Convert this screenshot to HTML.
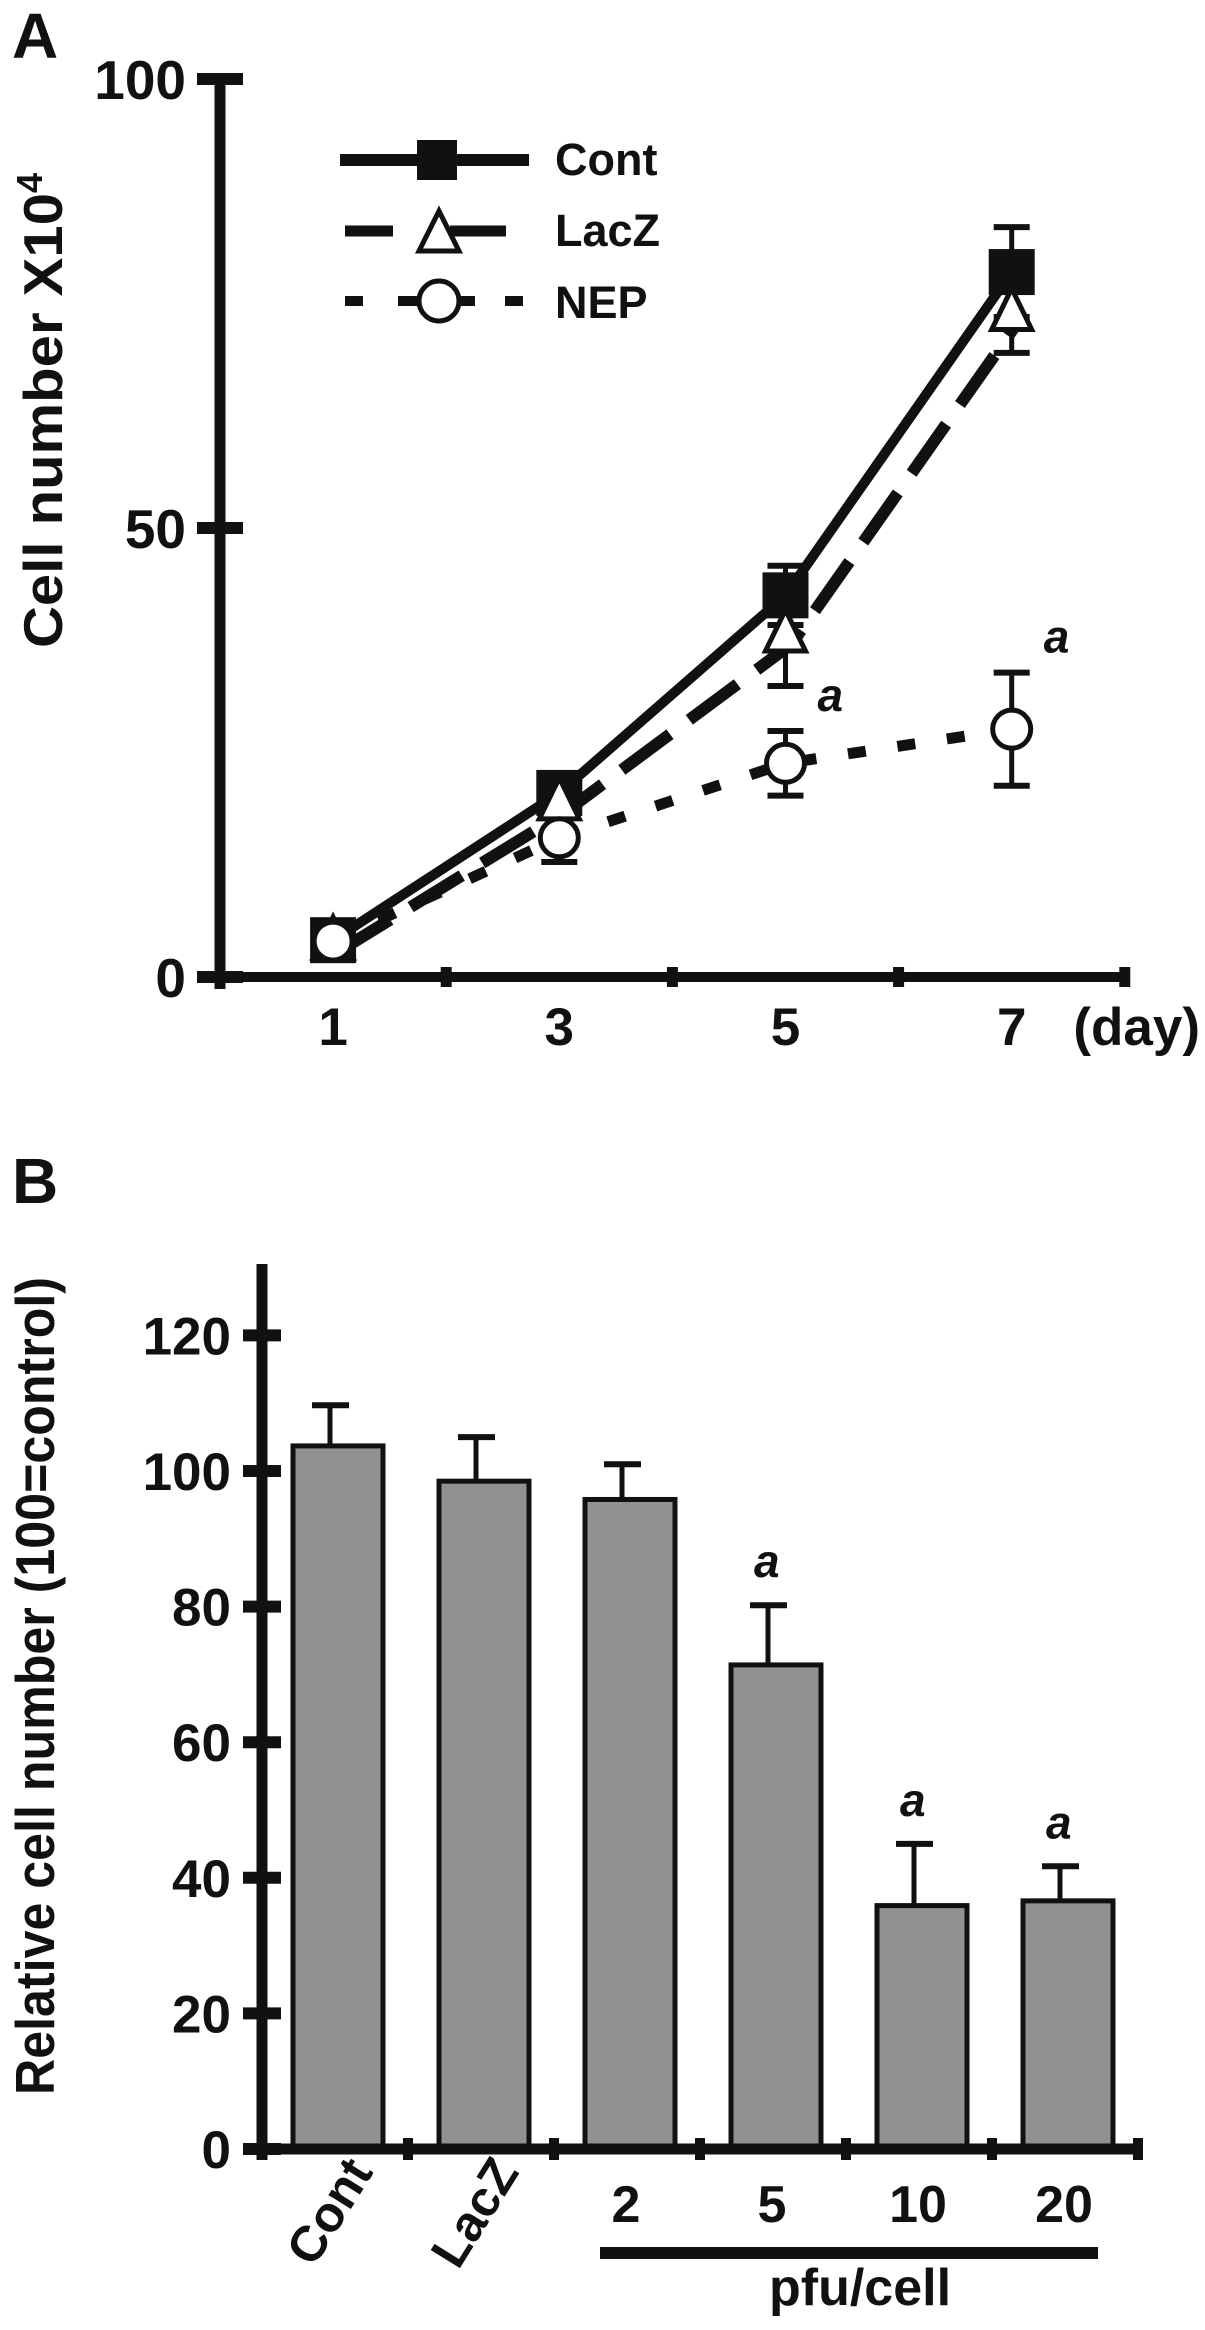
<!DOCTYPE html>
<html><head><meta charset="utf-8"><style>
html,body{margin:0;padding:0;background:#fff}
svg{display:block}
text{font-family:"Liberation Sans",Arial,sans-serif;font-weight:bold;fill:#111}
</style></head><body>
<svg id="chart" width="1205" height="2330" viewBox="0 0 1205 2330" xmlns="http://www.w3.org/2000/svg">
<g id="panelA"></g>
<g id="panelB"></g>
</svg>
<script>
// Panel A data
const days = [1, 3, 5, 7];
const contMean = [4.1, 20.5, 42.5, 78.5];
const contErr = [0, 0, 3.3, 5];
const lacMean = [4, 19.5, 38.2, 74];
const lacErr = [0, 0, 5.8, 4.5];
const nepMean = [4, 15.5, 23.8, 27.6];
const nepErr = [0, 2.7, 3.6, 6.3];
const aTicksY = [0, 50, 100];
const aTickLabelsY = ["0", "50", "100"];
const aTicksX = [0, 2, 4, 6, 8];
const nepSig = ["", "", "a", "a"];
// Panel B data
const bCats = ["Cont", "LacZ", "2", "5", "10", "20"];
const bVals = [103.7, 98.5, 95.8, 71.4, 35.9, 36.6];
const bErr = [6, 6.5, 5.2, 8.8, 9.1, 5.1];
const bSig = ["", "", "", "a", "a", "a"];
const bTicksY = [0, 20, 40, 60, 80, 100, 120];

const NS = "http://www.w3.org/2000/svg";
function mk(parent, tag, attrs, txt){
  const e = document.createElementNS(NS, tag);
  for (const k in attrs) e.setAttribute(k, attrs[k]);
  if (txt !== undefined) e.textContent = txt;
  parent.appendChild(e);
  return e;
}
// ---------- Panel A ----------
const A = document.getElementById('panelA');
const ax = d => 220 + d * 113.1;
const ay = v => 977 - v * 8.98;

let t = mk(A, 'text', {x: 12, y: 58, 'font-size': 64});
t.textContent = 'A';



let yl = mk(A, 'text', {transform: 'translate(62,648) rotate(-90)', 'font-size': 55});


mk(yl, 'tspan', {textLength: 455, lengthAdjust: 'spacingAndGlyphs'}, 'Cell number  X10');
mk(yl, 'tspan', {dy: -20, 'font-size': 36}, '4');

// axes
let yAxis = mk(A, 'line', {x1: ax(0), y1: ay(100) - 3, x2: ax(0), y2: ay(0) + 12, stroke: '#111', 'stroke-width': 11});


let xAxis = mk(A, 'line', {x1: 197, y1: ay(0), x2: ax(8) + 4, y2: ay(0), stroke: '#111', 'stroke-width': 10});


aTicksY.forEach((v, i) => {
  const tk = mk(A, 'line', {x1: 197, x2: 243, y1: ay(v), y2: ay(v), stroke: '#111', 'stroke-width': 12});
  
  
  const lb = mk(A, 'text', {x: 186, y: ay(v) + 20, 'text-anchor': 'end', 'font-size': 55}, aTickLabelsY[i]);
  
  
});
aTicksX.forEach(d => {
  const tk = mk(A, 'line', {x1: ax(d), x2: ax(d), y1: ay(0) - 10, y2: ay(0) + 10, stroke: '#111', 'stroke-width': 11});
  
  
});
days.forEach(d => {
  const lb = mk(A, 'text', {x: ax(d), y: 1045, 'text-anchor': 'middle', 'font-size': 53}, String(d));
  
  
});
let dl = mk(A, 'text', {x: 1200, y: 1045, 'text-anchor': 'end', 'font-size': 53}, '(day)');



function pts(m){ return days.map((d, i) => ax(d) + ',' + ay(m[i])).join(' '); }
// series lines
let lnN = mk(A, 'polyline', {points: pts(nepMean), fill: 'none', stroke: '#111', 'stroke-width': 11, 'stroke-dasharray': '18 32'});


let lnL = mk(A, 'polyline', {points: pts(lacMean).split(' ').map(p => { const [x, y] = p.split(','); return (+x + 6) + ',' + (+y + 10); }).join(' '), fill: 'none', stroke: '#111', 'stroke-width': 12, 'stroke-dasharray': '60 24'});


let lnC = mk(A, 'polyline', {points: pts(contMean), fill: 'none', stroke: '#111', 'stroke-width': 10});



function errBar(x, m, e, name){
  if (!e) return;
  const g = mk(A, 'g', {stroke: '#111', 'stroke-width': 5});
  
  
  mk(g, 'line', {x1: x, x2: x, y1: ay(m + e), y2: ay(m - e)});
  mk(g, 'line', {x1: x - 18, x2: x + 18, y1: ay(m + e), y2: ay(m + e), 'stroke-width': 6});
  mk(g, 'line', {x1: x - 18, x2: x + 18, y1: ay(m - e), y2: ay(m - e), 'stroke-width': 6});
}
days.forEach((d, i) => {
  errBar(ax(d), contMean[i], contErr[i], 'cont-error-bar');
  errBar(ax(d), lacMean[i], lacErr[i], 'lacz-error-bar');
  errBar(ax(d), nepMean[i], nepErr[i], 'nep-error-bar');
});
days.forEach((d, i) => {
  const s = mk(A, 'rect', {x: ax(d) - 23, y: ay(contMean[i]) - 23, width: 46, height: 46, fill: '#111'});
  
  
});
days.forEach((d, i) => {
  const x = ax(d), y = ay(lacMean[i]);
  const tr = mk(A, 'polygon', {points: `${x},${y - 24} ${x - 20},${y + 17} ${x + 20},${y + 17}`, fill: '#fff', stroke: '#111', 'stroke-width': 5});
  
  
});
days.forEach((d, i) => {
  const c = mk(A, 'circle', {cx: ax(d), cy: ay(nepMean[i]), r: 19, fill: '#fff', stroke: '#111', 'stroke-width': 5});
  
  
  if (nepSig[i]) {
    const s = mk(A, 'text', {x: ax(d) + 32, y: ay(nepMean[i] + nepErr[i]) - 20, 'font-size': 46, 'font-style': 'italic'}, nepSig[i]);
    
    
  }
});
// legend
const leg = mk(A, 'g', {});


let l1 = mk(leg, 'g', {});


mk(l1, 'line', {x1: 340, x2: 529, y1: 160, y2: 160, stroke: '#111', 'stroke-width': 12});
mk(l1, 'rect', {x: 417, y: 140, width: 40, height: 40, fill: '#111'});
mk(l1, 'text', {x: 555, y: 175, 'font-size': 45}, 'Cont');
let l2 = mk(leg, 'g', {});


mk(l2, 'line', {x1: 345, x2: 393, y1: 231, y2: 231, stroke: '#111', 'stroke-width': 11});
mk(l2, 'line', {x1: 450, x2: 506, y1: 231, y2: 231, stroke: '#111', 'stroke-width': 11});
mk(l2, 'polygon', {points: '439,211 419,251 459,251', fill: '#fff', stroke: '#111', 'stroke-width': 5});
mk(l2, 'text', {x: 555, y: 246, 'font-size': 45}, 'LacZ');
let l3 = mk(leg, 'g', {});


[[345, 363], [398, 420], [458, 475], [505, 523]].forEach(s => mk(l3, 'line', {x1: s[0], x2: s[1], y1: 301, y2: 301, stroke: '#111', 'stroke-width': 10}));
mk(l3, 'circle', {cx: 439, cy: 301, r: 20, fill: '#fff', stroke: '#111', 'stroke-width': 5});
mk(l3, 'text', {x: 555, y: 318, 'font-size': 45}, 'NEP');

// ---------- Panel B ----------
const B = document.getElementById('panelB');
const by = v => 2149 - v * 6.78;
const bx = i => 338 + i * 146;
let tb = mk(B, 'text', {x: 12, y: 1203, 'font-size': 64}, 'B');


let ylb = mk(B, 'text', {transform: 'translate(54,2095) rotate(-90)', 'font-size': 55, textLength: 818, lengthAdjust: 'spacingAndGlyphs'}, 'Relative cell number (100=control)');



bCats.forEach((c, i) => {
  const h = by(0) - by(bVals[i]);
  const r = mk(B, 'rect', {x: bx(i) - 45, y: by(bVals[i]), width: 90, height: h, fill: '#919191', stroke: '#111', 'stroke-width': 5});
  
  
  const g = mk(B, 'g', {stroke: '#111', 'stroke-width': 5});
  
  
  mk(g, 'line', {x1: bx(i) - 8, x2: bx(i) - 8, y1: by(bVals[i]), y2: by(bVals[i] + bErr[i])});
  mk(g, 'line', {x1: bx(i) - 26, x2: bx(i) + 11, y1: by(bVals[i] + bErr[i]), y2: by(bVals[i] + bErr[i]), 'stroke-width': 6});
  if (bSig[i]) {
    const s = mk(B, 'text', {x: bx(i) - 22, y: by(bVals[i] + bErr[i]) - 28, 'font-size': 46, 'font-style': 'italic'}, bSig[i]);
    
    
  }
  if (i < 2) {
    const lb = mk(B, 'text', {transform: `translate(${bx(i) + 36},2172) rotate(-58)`, 'text-anchor': 'end', 'font-size': 50}, c);
    
    
  } else {
    const lb = mk(B, 'text', {x: bx(i) - 4, y: 2222, 'text-anchor': 'middle', 'font-size': 52}, c);
    
    
  }
});
let byAxis = mk(B, 'line', {x1: 262, x2: 262, y1: 1264, y2: 2160, stroke: '#111', 'stroke-width': 11});


let bxAxis = mk(B, 'line', {x1: 243, x2: 1142, y1: by(0), y2: by(0), stroke: '#111', 'stroke-width': 11});


bTicksY.forEach(v => {
  const tk = mk(B, 'line', {x1: 243, x2: 281, y1: by(v), y2: by(v), stroke: '#111', 'stroke-width': 12});
  
  
  const lb = mk(B, 'text', {x: 231, y: by(v) + 19, 'text-anchor': 'end', 'font-size': 53}, String(v));
  
  
});
bCats.forEach((c, i) => {
  const x = bx(i) + 70;
  const tk = mk(B, 'line', {x1: x, x2: x, y1: by(0) - 11, y2: by(0) + 11, stroke: '#111', 'stroke-width': 10});
  
  
});
let ub = mk(B, 'line', {x1: 600, x2: 1098, y1: 2253, y2: 2253, stroke: '#111', 'stroke-width': 12});


let pf = mk(B, 'text', {x: 860, y: 2305, 'text-anchor': 'middle', 'font-size': 52}, 'pfu/cell');


</script>
</body></html>
